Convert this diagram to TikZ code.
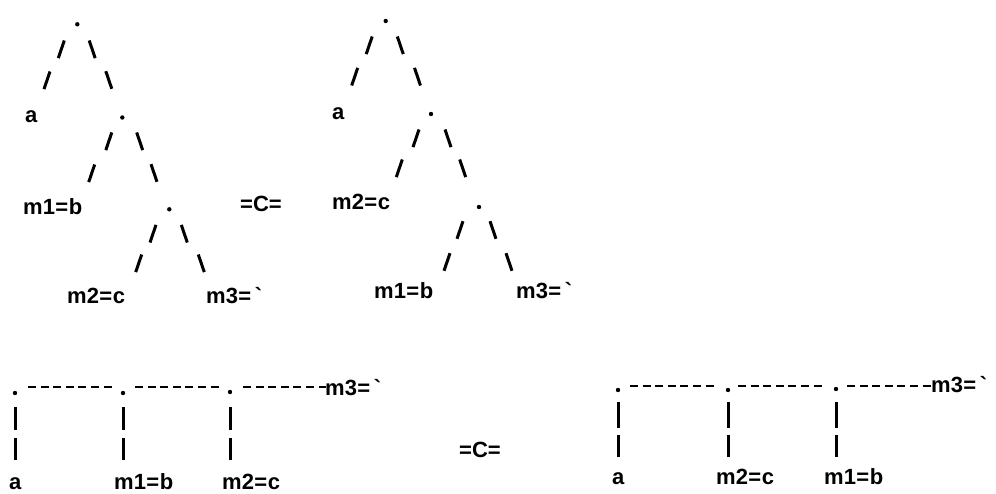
\documentclass[tikz,border=0pt]{standalone}
\usepackage{fontspec}
\setmainfont{Liberation Sans}
\newcommand\lblfont{\bfseries\fontsize{22}{24}\selectfont}
\newcommand\eqs{\hspace{0.5pt}=\hspace{0.5pt}}
\newcommand\myfs[2]{\draw[sl] ({#1-3},{#2+8.8}) -- ({#1+3},{#2-8.8});}
\newcommand\mybs[2]{\draw[sl] ({#1-3},{#2-8.8}) -- ({#1+3},{#2+8.8});}
\tikzset{
  lbl/.style={anchor=base west, inner sep=0pt, font=\lblfont},
  dotn/.style={circle, fill, inner sep=0pt, minimum size=4.4pt},
  sl/.style={line width=3pt},
  bar/.style={line width=3pt},
  dashrow/.style={line width=2.6pt, dash pattern=on 8pt off 4.6pt}
}
\begin{document}
\begin{tikzpicture}[x=1pt,y=-1pt]
\useasboundingbox (0,0) rectangle (996,493);
% ---------- Tree 1 ----------
\node[dotn] (t1d1) at (77.3,24.3) {};
\node[dotn] (t1d2) at (122.3,117.5) {};
\node[dotn] (t1d3) at (169.3,209.3) {};
\myfs{61.3}{49.3} \mybs{92.2}{49.3}
\myfs{47}{80.3} \mybs{108.8}{80}
\myfs{108.8}{141.3} \mybs{139.7}{141.3}
\myfs{91.7}{173.3} \mybs{154}{173}
\myfs{153}{233.7} \mybs{184.3}{233.7}
\myfs{138.7}{263.3} \mybs{201.3}{263.3}
\node[lbl] (t1a) at (25,122) {a};
\node[lbl] (t1m1) at (23,214) {m1\eqs b};
\node[lbl] (t1m2) at (67,303) {m2\eqs c};
\node[lbl] (t1m3) at (206,303) {m3\eqs\hspace{3pt}\textasciigrave};
\node[lbl] (eq1) at (240,211) {=C=};
% ---------- Tree 2 ----------
\node[dotn] (t2d1) at (385.7,21) {};
\node[dotn] (t2d2) at (431,114) {};
\node[dotn] (t2d3) at (479,207) {};
\myfs{369.2}{45.3} \mybs{400.3}{45.3}
\myfs{354.7}{76.7} \mybs{417.5}{76.7}
\myfs{416}{138.3} \mybs{448}{138.3}
\myfs{399.3}{168.3} \mybs{462.7}{168.3}
\myfs{460}{230} \mybs{493}{230}
\myfs{447}{262} \mybs{509}{262}
\node[lbl] (t2a) at (332,119) {a};
\node[lbl] (t2m2) at (332,209) {m2\eqs c};
\node[lbl] (t2m1) at (374,298) {m1\eqs b};
\node[lbl] (t2m3) at (516,298) {m3\eqs\hspace{3pt}\textasciigrave};
% ---------- Bottom left ----------
\node[dotn] (b1d1) at (15,393) {};
\node[dotn] (b1d2) at (123,393) {};
\node[dotn] (b1d3) at (230,392) {};
\draw[dashrow] (28,387) -- (114,387);
\draw[dashrow] (135,387) -- (221,387);
\draw[dashrow] (243,387) -- (326,387);
\node[lbl] (b1m3) at (325,395) {m3\eqs\hspace{3pt}\textasciigrave};
\foreach \x in {15,123,230}{
  \draw[bar] (\x,407) -- (\x,430);
  \draw[bar] (\x,438) -- (\x,460);
}
\node[lbl] (b1a) at (9,489) {a};
\node[lbl] (b1m1) at (114,489) {m1\eqs b};
\node[lbl] (b1m2) at (222,489) {m2\eqs c};
\node[lbl] (eq2) at (459,457) {=C=};
% ---------- Bottom right ----------
\node[dotn] (b2d1) at (618,390) {};
\node[dotn] (b2d2) at (728,390) {};
\node[dotn] (b2d3) at (836,389) {};
\draw[dashrow] (630,386) -- (714,386);
\draw[dashrow] (738,386) -- (822,386);
\draw[dashrow] (847,386) -- (931,386);
\node[lbl] (b2m3) at (931,392) {m3\eqs\hspace{3pt}\textasciigrave};
\foreach \x in {618,728,836}{
  \draw[bar] (\x,402) -- (\x,428);
  \draw[bar] (\x,435) -- (\x,457);
}
\node[lbl] (b2a) at (612,484) {a};
\node[lbl] (b2m2) at (716,484) {m2\eqs c};
\node[lbl] (b2m1) at (824,484) {m1\eqs b};
\end{tikzpicture}
\end{document}
